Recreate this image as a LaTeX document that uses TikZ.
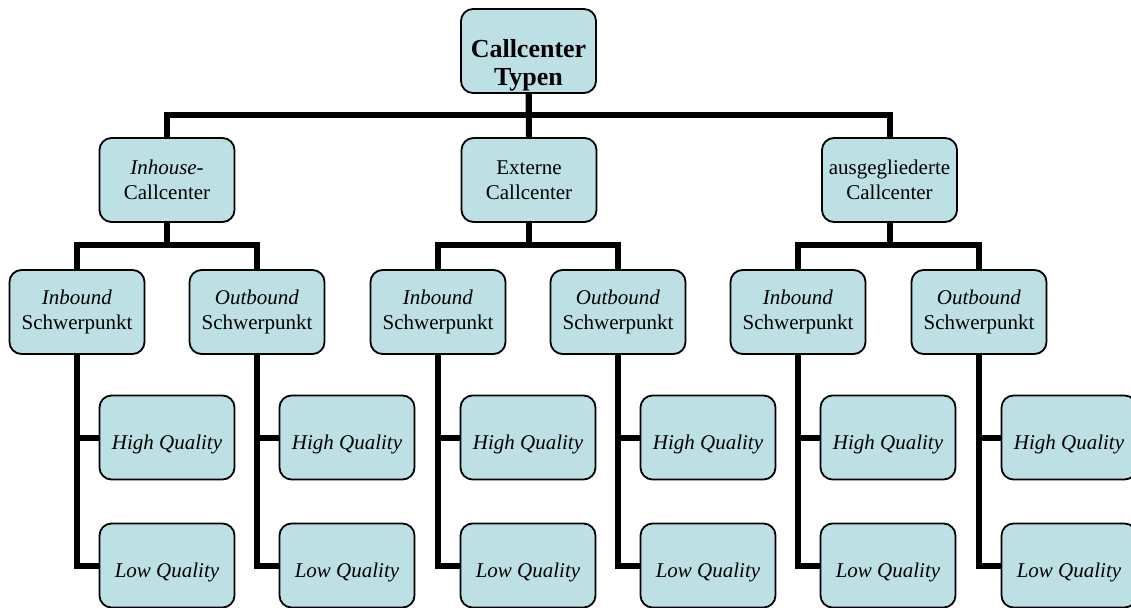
\documentclass[tikz,border=0pt]{standalone}
\usepackage{fontspec}
\setmainfont{Liberation Serif}
\definecolor{boxfill}{RGB}{188,224,228}
\newcommand{\boxfont}{\fontsize{21}{25}\selectfont}

\begin{document}
\begin{tikzpicture}[x=1pt,y=-1pt,
	box/.style={draw=black,line width=1.8pt,fill=boxfill,rounded corners=12pt,
		minimum width=135pt,minimum height=84pt,inner sep=0pt,align=center,font=\boxfont},
	qbox/.style={box,text height=28pt,text depth=5pt},
	toptext/.style={inner sep=0pt,align=center,font=\fontsize{26}{28}\selectfont\bfseries},
	conn/.style={line width=6pt,draw=black}]
	\useasboundingbox (0,0) rectangle (1131,607);
	\clip (0,0) rectangle (1131,607);
	% top
	\node[box] (typ) at (528.5,51) {};
	\node[toptext] (typtext) at (528.5,65) {Callcenter\\Typen};
	% second row
	\node[box] (inh) at (167,180) {\textit{Inhouse-}\\Callcenter};
	\node[box] (ext) at (529,180) {Externe\\Callcenter};
	\node[box] (aus) at (889.5,180) {ausgegliederte\\Callcenter};
	% third row
	\node[box] (ib1) at (77,312) {\textit{Inbound}\\Schwerpunkt};
	\node[box] (ob1) at (257,312) {\textit{Outbound}\\Schwerpunkt};
	\node[box] (ib2) at (438,312) {\textit{Inbound}\\Schwerpunkt};
	\node[box] (ob2) at (618,312) {\textit{Outbound}\\Schwerpunkt};
	\node[box] (ib3) at (798,312) {\textit{Inbound}\\Schwerpunkt};
	\node[box] (ob3) at (979,312) {\textit{Outbound}\\Schwerpunkt};
	% quality boxes
	\node[qbox] (hq1) at (167,437.5) {\textit{High Quality}};
	\node[qbox] (lq1) at (167,565.5) {\textit{Low Quality}};
	\node[qbox] (hq2) at (347,437.5) {\textit{High Quality}};
	\node[qbox] (lq2) at (347,565.5) {\textit{Low Quality}};
	\node[qbox] (hq3) at (528,437.5) {\textit{High Quality}};
	\node[qbox] (lq3) at (528,565.5) {\textit{Low Quality}};
	\node[qbox] (hq4) at (708,437.5) {\textit{High Quality}};
	\node[qbox] (lq4) at (708,565.5) {\textit{Low Quality}};
	\node[qbox] (hq5) at (888,437.5) {\textit{High Quality}};
	\node[qbox] (lq5) at (888,565.5) {\textit{Low Quality}};
	\node[qbox] (hq6) at (1069,437.5) {\textit{High Quality}};
	\node[qbox] (lq6) at (1069,565.5) {\textit{Low Quality}};
	% connectors
	\draw[conn] (typ.south) -- ++(0,21.5) -| (inh.north);
	\draw[conn] (typ.south) -- ++(0,21.5) -| (aus.north);
	\draw[conn] (typ.south) -- (ext.north);
	\draw[conn] (inh.south) -- ++(0,22) -| (ib1.north);
	\draw[conn] (inh.south) -- ++(0,22) -| (ob1.north);
	\draw[conn] (ext.south) -- ++(0,22) -| (ib2.north);
	\draw[conn] (ext.south) -- ++(0,22) -| (ob2.north);
	\draw[conn] (aus.south) -- ++(0,22) -| (ib3.north);
	\draw[conn] (aus.south) -- ++(0,22) -| (ob3.north);
	\draw[conn] (ib1.south) |- (hq1.west);
	\draw[conn] (ib1.south) |- (lq1.west);
	\draw[conn] (ob1.south) |- (hq2.west);
	\draw[conn] (ob1.south) |- (lq2.west);
	\draw[conn] (ib2.south) |- (hq3.west);
	\draw[conn] (ib2.south) |- (lq3.west);
	\draw[conn] (ob2.south) |- (hq4.west);
	\draw[conn] (ob2.south) |- (lq4.west);
	\draw[conn] (ib3.south) |- (hq5.west);
	\draw[conn] (ib3.south) |- (lq5.west);
	\draw[conn] (ob3.south) |- (hq6.west);
	\draw[conn] (ob3.south) |- (lq6.west);
\end{tikzpicture}
\end{document}
